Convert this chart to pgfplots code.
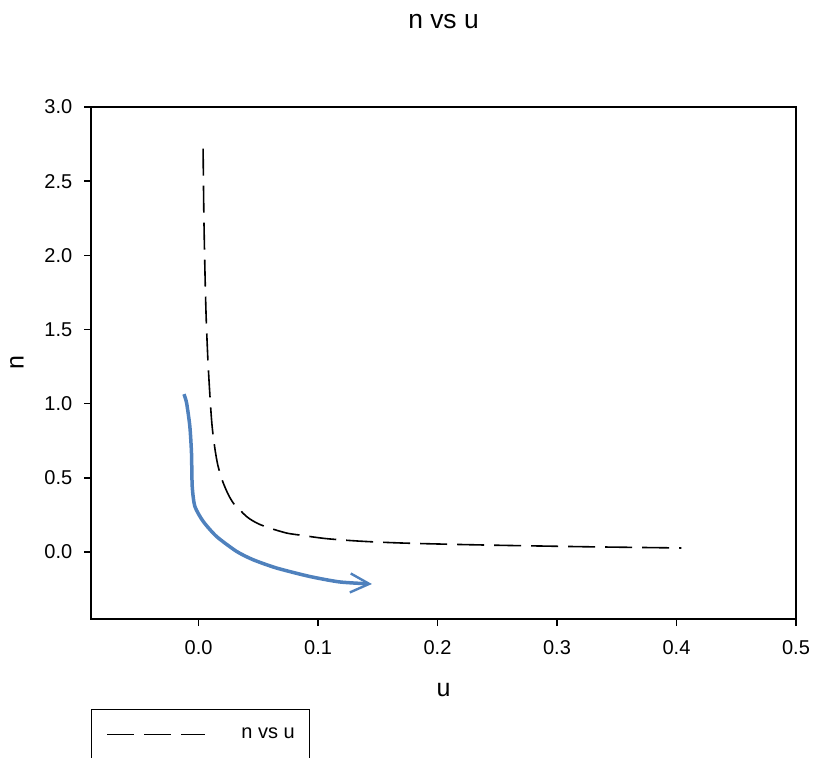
\documentclass[border=0pt]{standalone}
\usepackage{fontspec}
\setmainfont{Liberation Sans}
\usepackage{pgfplots}
\pgfplotsset{compat=1.18}
\usetikzlibrary{arrows.meta}
\definecolor{blueline}{RGB}{79,129,189}
\begin{document}
\begin{tikzpicture}
\begin{axis}[
  scale only axis, width=352.5pt, height=256pt,
  xmin=-0.09, xmax=0.5, ymin=-0.452, ymax=3.0,
  xtick={0,0.1,0.2,0.3,0.4,0.5},
  ytick={0,0.5,1,1.5,2,2.5,3},
  tick align=outside, tick pos=left, major tick length=3.5pt,
  axis line style={line width=0.8pt},
  every tick/.style={line width=0.8pt, black},
  /pgf/number format/assume math mode=true,
  /pgf/number format/.cd, fixed, fixed zerofill, precision=1, /pgfplots/.cd,
  tick label style={font=\fontsize{10}{12}\selectfont, inner sep=0pt},
  xticklabel style={anchor=north},
  yticklabel style={anchor=east},
  xticklabel shift=7pt,
  yticklabel shift=5.65pt,
  every axis title shift=0pt,
  title={n vs u},
  title style={at={(axis description cs:0.5,1)}, anchor=center, yshift=42.5pt, font=\fontsize{13.2}{15}\selectfont},
  xlabel={u},
  xlabel style={at={(axis description cs:0.5,0)}, anchor=center, yshift=-35.5pt, font=\fontsize{12.5}{15}\selectfont},
  ylabel={n},
  ylabel style={at={(axis description cs:-0.105,0.5)}, anchor=center, font=\fontsize{12.5}{15}\selectfont},
  legend image code/.code={\draw[#1] (0pt,0pt) -- (49pt,0pt); \path[draw=none] (0pt,0pt) -- (67pt,0pt);},
  legend style={at={(axis description cs:0,0)}, anchor=north west, yshift=-45pt,
    draw=black, line width=0.6pt, inner xsep=7.5pt, inner ysep=9pt,
    font=\fontsize{10}{12}\selectfont, nodes={inner sep=0pt}},
  legend cell align=left,
]
\addplot[black, line width=0.8pt, dash pattern=on 13.5pt off 5pt, smooth, tension=0.5] coordinates {
(0.0038,2.72) (0.0044,2.30) (0.0052,1.95) (0.0063,1.60) (0.0078,1.30)
(0.0094,1.07) (0.0108,0.90) (0.012,0.80) (0.014,0.68) (0.016,0.59)
(0.018,0.53) (0.020,0.48) (0.023,0.42) (0.026,0.37) (0.030,0.32)
(0.035,0.28) (0.040,0.24) (0.045,0.212) (0.0512,0.186) (0.060,0.160)
(0.0735,0.128) (0.0847,0.114) (0.107,0.090) (0.135,0.073) (0.168,0.061)
(0.21,0.052) (0.252,0.045) (0.295,0.039) (0.335,0.034) (0.404,0.027)
};
\addlegendentry{n vs u}
\addplot[blueline, line width=1.75pt, forget plot, smooth, tension=0.4, -{Straight Barb[length=9.5pt,width=9.5pt,line width=1.2pt]}] coordinates {
(-0.0122,1.064) (-0.0100,1.005) (-0.0073,0.848) (-0.0059,0.668) (-0.0053,0.443)
(-0.0031,0.308) (0.0039,0.206) (0.0150,0.105) (0.0318,0.004) (0.0456,-0.052)
(0.0652,-0.108) (0.0930,-0.165) (0.1181,-0.202) (0.1451,-0.216)
};
\end{axis}
\pgfresetboundingbox
\path ([shift={(-45.5pt,-69pt)}]current axis.south west) rectangle ([shift={(9pt,53.5pt)}]current axis.north east);
\end{tikzpicture}
\end{document}
